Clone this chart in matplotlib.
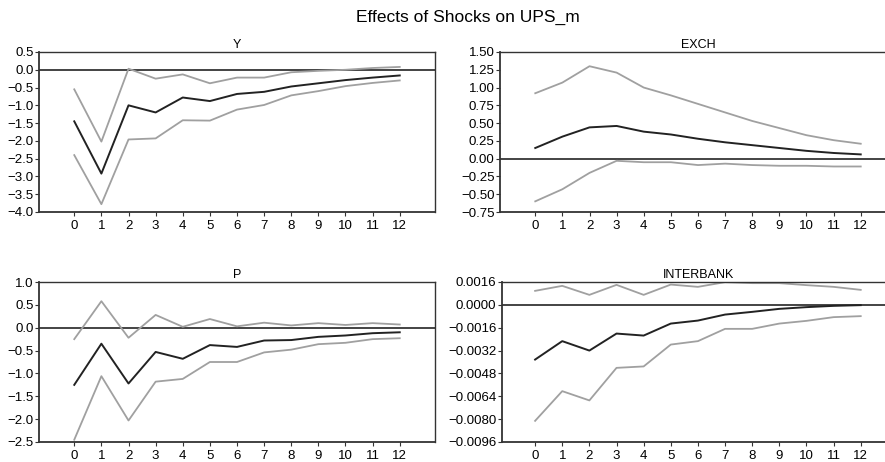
import matplotlib
matplotlib.use("Agg")
import matplotlib.pyplot as plt
import numpy as np

plt.rcParams['font.family'] = ['Liberation Sans', 'DejaVu Sans']

horizon = list(range(13))

y_resp = [-1.45, -2.92, -1.0, -1.2, -0.78, -0.88, -0.68, -0.62, -0.47, -0.38, -0.29, -0.22, -0.16]
y_upper = [-0.55, -2.02, 0.03, -0.25, -0.13, -0.38, -0.22, -0.22, -0.07, -0.03, 0.0, 0.05, 0.08]
y_lower = [-2.4, -3.78, -1.96, -1.93, -1.42, -1.43, -1.12, -0.99, -0.72, -0.6, -0.46, -0.37, -0.3]

exch_resp = [0.15, 0.31, 0.44, 0.46, 0.38, 0.34, 0.28, 0.23, 0.19, 0.15, 0.11, 0.08, 0.06]
exch_upper = [0.92, 1.07, 1.30, 1.21, 1.00, 0.89, 0.77, 0.65, 0.53, 0.43, 0.33, 0.26, 0.21]
exch_lower = [-0.60, -0.43, -0.20, -0.03, -0.05, -0.05, -0.09, -0.07, -0.09, -0.10, -0.10, -0.11, -0.11]

p_resp = [-1.25, -0.35, -1.22, -0.53, -0.68, -0.38, -0.42, -0.28, -0.27, -0.2, -0.17, -0.12, -0.1]
p_upper = [-0.25, 0.58, -0.22, 0.28, 0.02, 0.19, 0.03, 0.11, 0.05, 0.1, 0.06, 0.1, 0.07]
p_lower = [-2.45, -1.06, -2.03, -1.18, -1.12, -0.75, -0.75, -0.54, -0.48, -0.36, -0.33, -0.25, -0.23]

ib_resp = [-0.00383, -0.00254, -0.00320, -0.00201, -0.00215, -0.00131, -0.0011, -0.00068, -0.00049, -0.00028, -0.00016, -0.00007, -0.00002]
ib_upper = [0.00098, 0.00133, 0.0007, 0.0014, 0.0007, 0.00142, 0.00126, 0.00159, 0.00152, 0.00152, 0.00138, 0.00126, 0.00105]
ib_lower = [-0.00812, -0.00604, -0.00669, -0.00441, -0.00431, -0.00278, -0.00254, -0.00168, -0.00168, -0.00131, -0.00112, -0.00086, -0.00079]

y_ticks = [0.5, 0.0, -0.5, -1.0, -1.5, -2.0, -2.5, -3.0, -3.5, -4.0]
exch_ticks = [1.5, 1.25, 1.0, 0.75, 0.5, 0.25, 0.0, -0.25, -0.5, -0.75]
p_ticks = [1.0, 0.5, 0.0, -0.5, -1.0, -1.5, -2.0, -2.5]
ib_ticks = [0.0016, 0.0, -0.0016, -0.0032, -0.0048, -0.0064, -0.0080, -0.0096]

fig = plt.figure(figsize=(8.85, 4.62), dpi=100)
W, H = 885, 462

def make_ax(l, r, t, b):
    return fig.add_axes([l / W, 1 - b / H, (r - l) / W, (b - t) / H])

panels = [
    (make_ax(39, 435, 52, 212), "Y", y_resp, y_upper, y_lower, y_ticks, "{:.1f}", -1.3, 13.3),
    (make_ax(500, 896, 52, 212), "EXCH", exch_resp, exch_upper, exch_lower, exch_ticks, "{:.2f}", -1.3, 13.3),
    (make_ax(39, 435, 282, 442), "P", p_resp, p_upper, p_lower, p_ticks, "{:.1f}", -1.3, 13.3),
    (make_ax(502, 896, 282, 442), "INTERBANK", ib_resp, ib_upper, ib_lower, ib_ticks, "{:.4f}", -1.22, 13.3),
]

for ax, title, resp, up, lo, ticks, fmt, x0, x1 in panels:
    ax.axhline(0, color='#111111', lw=1.1, zorder=1)
    ax.plot(horizon, up, color='#a0a0a0', lw=1.3, zorder=2)
    ax.plot(horizon, lo, color='#a0a0a0', lw=1.3, zorder=2)
    ax.plot(horizon, resp, color='#222222', lw=1.4, zorder=3)
    ax.set_xlim(x0, x1)
    ax.set_ylim(min(ticks), max(ticks))
    ax.set_yticks(ticks)
    labels = []
    for t in ticks:
        s = fmt.format(t)
        if s.startswith('-'):
            s = '\u2212' + s[1:]
        labels.append(s)
    ax.set_yticklabels(labels)
    ax.set_xticks(horizon)
    ax.set_xticklabels([str(h) for h in horizon])
    ax.tick_params(axis='y', length=3, width=0.8, pad=1, labelsize=9.5, color='#333333')
    ax.tick_params(axis='x', length=3, width=0.8, pad=3, labelsize=9.5, color='#333333')
    for name, sp in ax.spines.items():
        sp.set_color('#333333')
        sp.set_linewidth(1.3 if name in ('left', 'bottom') else 1.0)
    ax.set_title(title, fontsize=9, pad=3)

fig.text(468 / W, 1 - 17.5 / H, "Effects of Shocks on UPS_m", ha='center', va='center', fontsize=12.5)

fig.savefig("out.png", dpi=100)
